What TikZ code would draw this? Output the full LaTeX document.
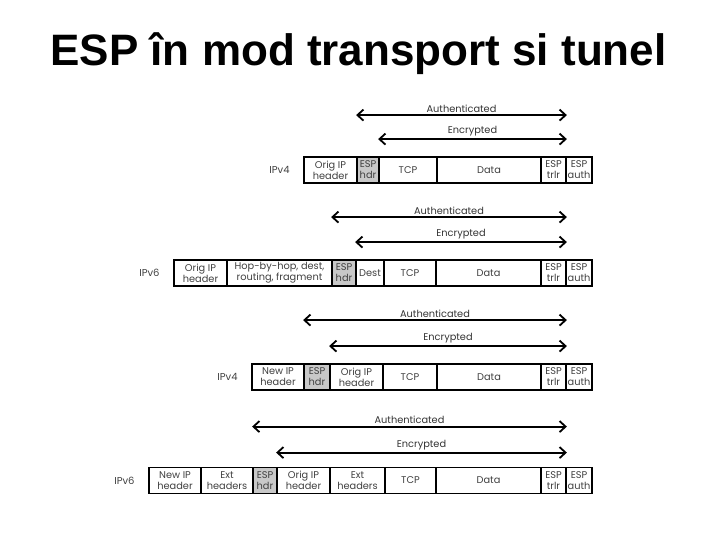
\documentclass[tikz,border=0pt]{standalone}
\usepackage{fontspec}
\setmainfont{Poppins}
\newfontfamily\titlefont{Liberation Sans}
\usetikzlibrary{arrows.meta}
\definecolor{hdrgray}{RGB}{200,200,200}
\tikzset{
  cell/.style={draw=black, line width=1.8pt, minimum height=26pt, inner sep=0pt,
    align=center, font=\fontsize{9.8}{11}\selectfont, text=black!75},
  gcell/.style={cell, fill=hdrgray},
  span/.style={line width=1.8pt, {Straight Barb[length=6pt,width=11pt,line width=1.8pt]}-{Straight Barb[length=6pt,width=11pt,line width=1.8pt]}},
  spanlbl/.style={above, inner sep=1.8pt, font=\fontsize{9.8}{10}\selectfont, text=black!80},
  rowlbl/.style={anchor=east, font=\fontsize{10}{11}\selectfont, text=black!75}
}
\begin{document}
\begin{tikzpicture}[x=1pt,y=-1pt]
\useasboundingbox (0,0) rectangle (720,540);
\node[font=\titlefont\bfseries\fontsize{44}{48}\selectfont, anchor=base] (title) at (358.5,66) {ESP în mod transport si tunel};

% Row 1: IPv4 transport
\node[cell, minimum width=53pt] (r1a) at (330.5,170) {Orig IP\\header};
\node[gcell, minimum width=22pt] (r1b) at (368,170) {ESP\\hdr};
\node[cell, minimum width=58pt] (r1c) at (408,170) {TCP};
\node[cell, minimum width=104pt] (r1d) at (489,170) {Data};
\node[cell, minimum width=25pt] (r1e) at (553.5,170) {ESP\\trlr};
\node[cell, minimum width=26pt] (r1f) at (579,170) {ESP\\auth};
\node[rowlbl] (l1) at ([xshift=-10pt]r1a.west) {IPv4};
\draw[span] ([yshift=41pt]r1b.north west) -- ([yshift=41pt]r1e.north east) node[spanlbl, midway] (t1a) {Authenticated};
\draw[span] ([yshift=17pt]r1c.north west) -- ([yshift=17pt]r1e.north east) node[spanlbl, midway] (t1e) {Encrypted};

% Row 2: IPv6 transport
\node[cell, minimum width=53pt] (r2a) at (200.5,273) {Orig IP\\header};
\node[cell, minimum width=105pt] (r2b) at (279.5,273) {Hop-by-hop, dest,\\routing, fragment};
\node[gcell, minimum width=24pt] (r2c) at (344,273) {ESP\\hdr};
\node[cell, minimum width=28pt] (r2d) at (370,273) {Dest};
\node[cell, minimum width=52pt] (r2e) at (410,273) {TCP};
\node[cell, minimum width=105pt] (r2f) at (488.5,273) {Data};
\node[cell, minimum width=25pt] (r2g) at (553.5,273) {ESP\\trlr};
\node[cell, minimum width=26pt] (r2h) at (579,273) {ESP\\auth};
\node[rowlbl] (l2) at ([xshift=-10pt]r2a.west) {IPv6};
\draw[span] ([yshift=42pt]r2c.north west) -- ([yshift=42pt]r2g.north east) node[spanlbl, midway] (t2a) {Authenticated};
\draw[span] ([yshift=17pt]r2d.north west) -- ([yshift=17pt]r2g.north east) node[spanlbl, midway] (t2e) {Encrypted};

% Row 3: IPv4 tunnel
\node[cell, minimum width=52pt] (r3a) at (278,377) {New IP\\header};
\node[gcell, minimum width=26pt] (r3b) at (317,377) {ESP\\hdr};
\node[cell, minimum width=53pt] (r3c) at (356.5,377) {Orig IP\\header};
\node[cell, minimum width=54pt] (r3d) at (410,377) {TCP};
\node[cell, minimum width=104pt] (r3e) at (489,377) {Data};
\node[cell, minimum width=25pt] (r3f) at (553.5,377) {ESP\\trlr};
\node[cell, minimum width=26pt] (r3g) at (579,377) {ESP\\auth};
\node[rowlbl] (l3) at ([xshift=-10pt]r3a.west) {IPv4};
\draw[span] ([yshift=43pt]r3b.north west) -- ([yshift=43pt]r3f.north east) node[spanlbl, midway] (t3a) {Authenticated};
\draw[span] ([yshift=17pt]r3c.north west) -- ([yshift=17pt]r3f.north east) node[spanlbl, midway] (t3e) {Encrypted};

% Row 4: IPv6 tunnel
\node[cell, minimum width=52pt] (r4a) at (175,480.5) {New IP\\header};
\node[cell, minimum width=52pt] (r4b) at (227,480.5) {Ext\\headers};
\node[gcell, minimum width=24pt] (r4c) at (265,480.5) {ESP\\hdr};
\node[cell, minimum width=53pt] (r4d) at (303.5,480.5) {Orig IP\\header};
\node[cell, minimum width=55pt] (r4e) at (357.5,480.5) {Ext\\headers};
\node[cell, minimum width=51pt] (r4f) at (410.5,480.5) {TCP};
\node[cell, minimum width=105pt] (r4g) at (488.5,480.5) {Data};
\node[cell, minimum width=25pt] (r4h) at (553.5,480.5) {ESP\\trlr};
\node[cell, minimum width=26pt] (r4i) at (579,480.5) {ESP\\auth};
\node[rowlbl] (l4) at ([xshift=-10pt]r4a.west) {IPv6};
\draw[span] ([yshift=40pt]r4c.north west) -- ([yshift=40pt]r4h.north east) node[spanlbl, midway] (t4a) {Authenticated};
\draw[span] ([yshift=14pt]r4d.north west) -- ([yshift=14pt]r4h.north east) node[spanlbl, midway] (t4e) {Encrypted};
\end{tikzpicture}
\end{document}
